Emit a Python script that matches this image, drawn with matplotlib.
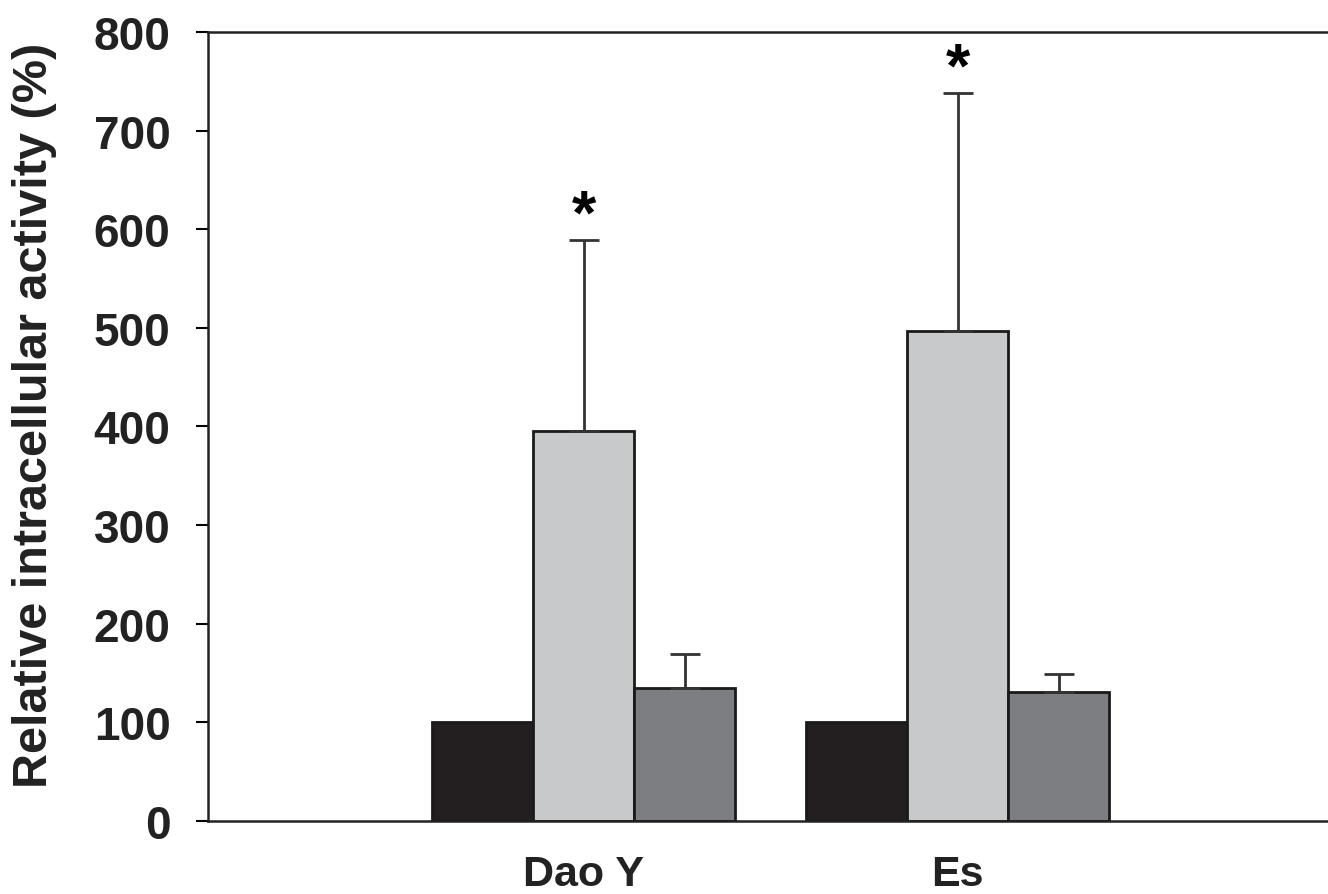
import matplotlib.pyplot as plt
import numpy as np

groups = ["Dao Y", "Es"]
control = [100, 100]
treated = [395, 497]
treated_err = [194, 241]
combined = [135, 131]
combined_err = [34, 18]
stars = ["*", "*"]

colors = ["#231f20", "#c8c9cb", "#7d7e82"]

plt.rcParams["font.family"] = ["Liberation Sans", "DejaVu Sans"]

fig = plt.figure(figsize=(13.28, 8.95), dpi=100)
ax = fig.add_axes([0.1566, 0.0816, 0.8434, 0.8815])

x = np.arange(len(groups))
w = 0.27

ax.bar(x - w, control, w, color=colors[0], edgecolor="#1a1a1a", linewidth=2)
ax.bar(x, treated, w, color=colors[1], edgecolor="#1a1a1a", linewidth=2)
ax.bar(x + w, combined, w, color=colors[2], edgecolor="#1a1a1a", linewidth=2)

ax.errorbar(x, treated, yerr=[np.zeros(2), treated_err], fmt="none",
            ecolor="#333333", elinewidth=2, capsize=11, capthick=2, zorder=1)
ax.errorbar(x + w, combined, yerr=[np.zeros(2), combined_err], fmt="none",
            ecolor="#333333", elinewidth=2, capsize=11, capthick=2, zorder=1)

for xi, v, e, s in zip(x, treated, treated_err, stars):
    ax.annotate(s, (xi, v + e), xytext=(0, -4), textcoords="offset points",
                ha="center", va="bottom", fontsize=45, fontweight="bold")

ax.set_xlim(-1.004, 1.99)
ax.set_ylim(0, 800)
ax.set_yticks(range(0, 801, 100))
ax.set_xticks(x)
ax.set_xticklabels(groups)

ax.tick_params(axis="y", direction="out", length=9, width=1.5, pad=18,
               labelsize=33)
ax.tick_params(axis="x", length=0, pad=24, labelsize=31)
for lab in ax.get_xticklabels() + ax.get_yticklabels():
    lab.set_fontweight("bold")
    lab.set_color("#222222")

ax.set_ylabel("Relative intracellular activity (%)", fontsize=35,
              fontweight="bold", color="#222222", va="center")
ax.yaxis.set_label_coords(-0.155, 0.515)

ax.spines["right"].set_visible(False)
for sp in ["left", "bottom", "top"]:
    ax.spines[sp].set_linewidth(1.8)
    ax.spines[sp].set_color("#222222")

fig.savefig("out.png", dpi=100)
